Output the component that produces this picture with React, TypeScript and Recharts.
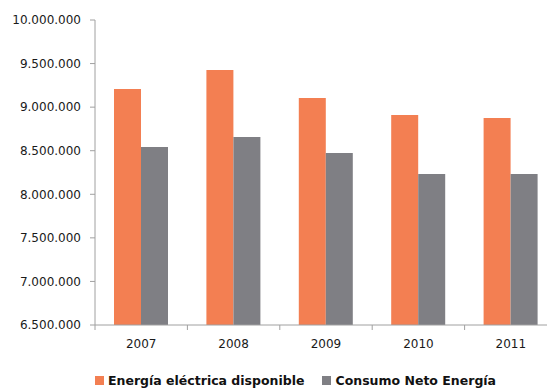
import React from 'react';
import { BarChart, Bar, XAxis, YAxis, Legend } from 'recharts';

const years = ['2007', '2008', '2009', '2010', '2011'];
const energiaDisponible = [9208000, 9426000, 9105000, 8910000, 8876000];
const consumoNeto = [8543000, 8657000, 8474000, 8233000, 8233000];
const yTicks = [6500000, 7000000, 7500000, 8000000, 8500000, 9000000, 9500000, 10000000];
const seriesNames = ['Energía eléctrica disponible', 'Consumo Neto Energía'];

const data = years.map((y, i) => ({
  year: y,
  disp: energiaDisponible[i],
  cons: consumoNeto[i],
}));

const ORANGE = '#F37F52';
const GRAY = '#7F7F84';
const AXIS = '#A0A0A0';
const FONT = '"DejaVu Sans", Verdana, sans-serif';

const CHART_W = 557;
const CHART_H = 388;
const Y_W = 95;
const BAND = (CHART_W - Y_W) / years.length;

const fmt = (v: number) => String(Math.round(v)).replace(/\B(?=(\d{3})+(?!\d))/g, '.');

const XTick = (props: any) => {
  const { x, y, payload, index } = props;
  const left = x - BAND / 2;
  return (
    <g>
      <line x1={left} y1={y} x2={left} y2={y + 5} stroke={AXIS} strokeWidth={1} />
      {index === years.length - 1 && (
        <line x1={x + BAND / 2} y1={y} x2={x + BAND / 2} y2={y + 5} stroke={AXIS} strokeWidth={1} />
      )}
      <text x={x} y={y + 23} textAnchor="middle" fontSize={12} fill="#1a1a1a" fontFamily={FONT}>
        {payload.value}
      </text>
    </g>
  );
};

const LegendContent = () => {
  const colors = [ORANGE, GRAY];
  return (
    <div style={{ display: 'flex', alignItems: 'center', fontFamily: FONT, fontWeight: 'bold', fontSize: 12.5, color: '#111' }}>
      {seriesNames.map((n, i) => (
        <div key={n} style={{ display: 'flex', alignItems: 'center', marginRight: 18 }}>
          <span style={{ display: 'inline-block', width: 9, height: 9, background: colors[i], marginRight: 4 }} />
          <span>{n}</span>
        </div>
      ))}
    </div>
  );
};

export default function App() {
  return (
    <div style={{ position: 'absolute', left: 0, top: 0, width: 547, height: 388, overflow: 'hidden', background: '#fff' }}>
      <BarChart
        width={CHART_W}
        height={CHART_H}
        data={data}
        margin={{ top: 20, right: 0, bottom: 0, left: 0 }}
        barCategoryGap={19}
        barGap={0}
      >
        <XAxis
          dataKey="year"
          height={30}
          axisLine={{ stroke: AXIS }}
          tickLine={false}
          tickSize={0}
          tickMargin={0}
          tick={<XTick />}
          interval={0}
        />
        <YAxis
          width={Y_W}
          domain={[6500000, 10000000]}
          ticks={yTicks}
          allowDataOverflow
          axisLine={{ stroke: AXIS }}
          tickLine={{ stroke: AXIS }}
          tickSize={5}
          tickMargin={9}
          tickFormatter={fmt}
          tick={{ fontSize: 12, fill: '#1a1a1a', fontFamily: FONT }}
        />
        <Legend
          verticalAlign="bottom"
          height={33}
          content={<LegendContent />}
          wrapperStyle={{ left: 95, top: 373, width: 450 }}
        />
        <Bar dataKey="disp" name={seriesNames[0]} fill={ORANGE} isAnimationActive={false} />
        <Bar dataKey="cons" name={seriesNames[1]} fill={GRAY} isAnimationActive={false} />
      </BarChart>
    </div>
  );
}
